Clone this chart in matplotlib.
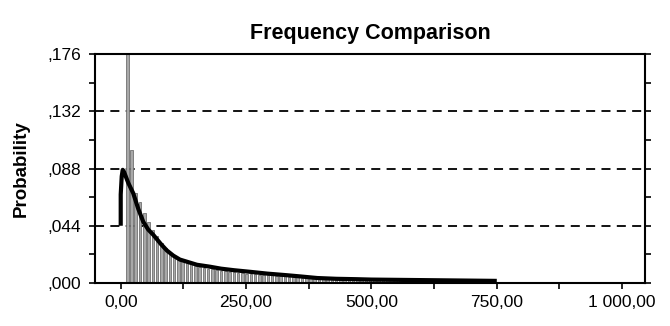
import matplotlib.pyplot as plt
from matplotlib.ticker import FixedLocator, FuncFormatter

plt.rcParams['font.family'] = ['Liberation Sans', 'DejaVu Sans']

# histogram bins (left-most bin centre and width)
bin_first = 13.0
bin_width = 8.5
bar_heights = [
    0.176, 0.102, 0.069, 0.062, 0.054, 0.047, 0.041, 0.036, 0.031, 0.027,
    0.024, 0.021, 0.019, 0.017, 0.015, 0.0145, 0.013, 0.012, 0.0115, 0.011,
    0.0105, 0.010, 0.0095, 0.009, 0.0088, 0.0085, 0.0078, 0.0075, 0.0072, 0.007,
    0.0068, 0.0065, 0.0062, 0.006, 0.0058, 0.0055, 0.0052, 0.005, 0.0048, 0.0045,
    0.0043, 0.0041, 0.0039, 0.0037, 0.0035, 0.0034, 0.0033, 0.0032, 0.0031, 0.0030,
    0.0030, 0.0029, 0.0029, 0.0028, 0.0028, 0.0027, 0.0027, 0.0026, 0.0026, 0.0026,
    0.0025, 0.0025, 0.0025, 0.0024, 0.0024, 0.0024, 0.0023, 0.0023, 0.0023, 0.0022,
    0.0022, 0.0022, 0.0022, 0.0021, 0.0021, 0.0021, 0.0021, 0.0020, 0.0020, 0.0020,
    0.0020, 0.0019, 0.0019, 0.0019, 0.0019, 0.0018, 0.0018,
]
# sparse tail beyond 750
tail_x = [772, 790, 828, 858, 876, 896, 918, 940]
tail_h = [0.0008, 0.0006, 0.0007, 0.0006, 0.0008, 0.0006, 0.0007, 0.0010]

# fitted curve
curve_x = [0, 0, 2, 4, 6, 10, 15, 25, 35, 45, 55, 65, 80, 92, 105, 118, 135, 152,
           178, 200, 226, 260, 292, 330, 359, 392, 430, 470, 500, 550, 600, 650, 700, 750]
curve_y = [0.044, 0.068, 0.082, 0.087, 0.086, 0.082, 0.077, 0.069, 0.057, 0.047,
           0.041, 0.037, 0.030, 0.025, 0.021, 0.018, 0.016, 0.014, 0.0125, 0.011,
           0.0098, 0.0085, 0.0072, 0.006, 0.005, 0.0038, 0.0032, 0.0029, 0.0026,
           0.0024, 0.0022, 0.002, 0.0018, 0.0016]

y_ticks = [0.0, 0.044, 0.088, 0.132, 0.176]
x_ticks = [0, 250, 500, 750, 1000]
x_labels = ['0,00', '250,00', '500,00', '750,00', '1 000,00']

fig = plt.figure(figsize=(6.7, 3.26), dpi=100)
ax = fig.add_axes([0.142, 0.132, 0.821, 0.702])

bar_x = [bin_first + i * bin_width for i in range(len(bar_heights))]
ax.bar(bar_x, bar_heights, width=bin_width * 0.6, color='#a8a8a8',
       edgecolor='#707070', linewidth=0.6, zorder=2)
ax.bar(tail_x, tail_h, width=bin_width * 0.6, color='#a8a8a8',
       edgecolor='#707070', linewidth=0.6, zorder=2)
ax.plot(curve_x, curve_y, color='black', lw=3, zorder=3, solid_capstyle='butt')

for y in y_ticks[1:-1]:
    ax.axhline(y, color='black', lw=1.3, ls=(0, (5, 3.5)), zorder=1)

ax.set_xlim(-51, 1046)
ax.set_ylim(0, 0.176)
ax.yaxis.set_major_locator(FixedLocator(y_ticks))
ax.yaxis.set_minor_locator(FixedLocator([0.022, 0.066, 0.110, 0.154]))
ax.yaxis.set_major_formatter(FuncFormatter(lambda v, p: ('%.3f' % v)[1:].replace('.', ',')))
ax.set_xticks(x_ticks)
ax.set_xticklabels(x_labels)
ax.xaxis.set_minor_locator(FixedLocator([125, 375, 625, 875]))

ax.tick_params(axis='both', which='both', direction='out', length=4, width=1.2,
               labelsize=12.5, color='black')
ax.tick_params(axis='y', which='both', right=True, pad=6)
ax.tick_params(axis='x', pad=5)
for s in ax.spines.values():
    s.set_linewidth(1.5)

ax.set_title('Frequency Comparison', fontsize=15.5, fontweight='bold', pad=11)
ax.set_ylabel('Probability', fontsize=13.5, fontweight='bold', labelpad=13)

fig.savefig('out.png', dpi=100)
